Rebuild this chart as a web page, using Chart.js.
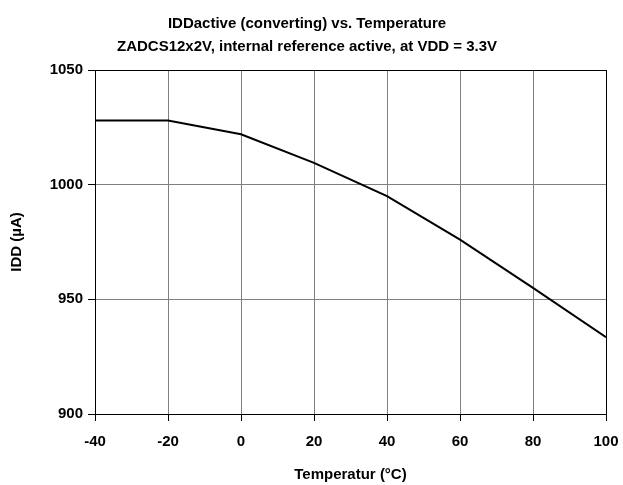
<!DOCTYPE html>
<html>
<head>
    <title>IDDactive vs. Temperature</title>
    <script src="https://cdnjs.cloudflare.com/ajax/libs/Chart.js/4.4.0/chart.umd.min.js"></script>
    <style>
        body { margin: 0; background: #fff; }
        #wrap { width: 623px; height: 485px; }
    </style>
</head>
<body>
    <div id="wrap"><canvas id="myChart" width="623" height="485"></canvas></div>

    <script>
        // Data
        const temperatures = [-40, -20, 0, 20, 40, 60, 80, 100];
        const iddValues = [1028, 1028, 1022, 1009.5, 995, 976, 955, 933.5];
        const yTicks = [900, 950, 1000, 1050];
        const xTicks = [-40, -20, 0, 20, 40, 60, 80, 100];

        const font = { family: '"Liberation Sans", Arial, sans-serif', size: 15, weight: 'bold' };

        const config = {
            type: 'line',
            data: {
                datasets: [{
                    data: temperatures.map((t, i) => ({ x: t, y: iddValues[i] })),
                    borderColor: '#000',
                    borderWidth: 2,
                    pointRadius: 0,
                    fill: false,
                    tension: 0
                }]
            },
            options: {
                responsive: false,
                animation: false,
                layout: { padding: { left: 8, right: 17, top: 0, bottom: 0 } },
                plugins: {
                    legend: { display: false },
                    tooltip: { enabled: false },
                    title: {
                        display: true,
                        text: ['IDDactive (converting) vs. Temperature', 'ZADCS12x2V, internal reference active, at VDD = 3.3V'],
                        color: '#000',
                        font: { ...font, lineHeight: 1.5 },
                        padding: { top: 13, bottom: 12 }
                    }
                },
                scales: {
                    x: {
                        type: 'linear',
                        min: -40,
                        max: 100,
                        afterBuildTicks: (s) => { s.ticks = xTicks.map(v => ({ value: v })); },
                        afterFit: (s) => { s.height = 71; s.paddingRight = 0; },
                        ticks: { color: '#000', font: font, padding: 12, maxRotation: 0 },
                        grid: {
                            color: (c) => c.tick && c.tick.value === 100 ? '#000' : '#808080',
                            tickColor: '#000',
                            tickLength: 7
                        },
                        border: { color: '#000' },
                        title: { display: true, text: 'Temperatur (°C)', color: '#000', font: font, padding: { top: 10, bottom: 1 } }
                    },
                    y: {
                        min: 900,
                        max: 1050,
                        afterBuildTicks: (s) => { s.ticks = yTicks.map(v => ({ value: v })); },
                        afterFit: (s) => { s.width = 87; },
                        ticks: { color: '#000', font: font, padding: 5, callback: (v) => String(v) },
                        grid: {
                            color: (c) => c.tick && c.tick.value === 1050 ? '#000' : '#808080',
                            tickColor: '#000',
                            tickLength: 7
                        },
                        border: { color: '#000' },
                        title: { display: true, text: 'IDD (µA)', color: '#000', font: font, padding: 0 }
                    }
                }
            }
        };

        // Create the chart
        const ctx = document.getElementById('myChart');
        new Chart(ctx, config);
    </script>
</body>
</html>
